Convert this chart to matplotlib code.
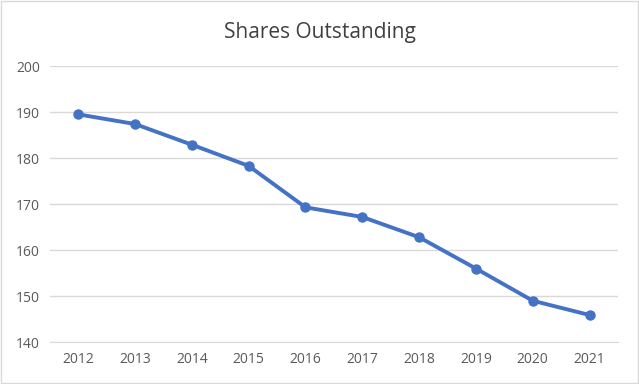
import matplotlib.pyplot as plt

# Data
years = ["2012", "2013", "2014", "2015", "2016", "2017", "2018", "2019", "2020", "2021"]
shares = [189.5, 187.4, 182.9, 178.3, 169.3, 167.2, 162.8, 156.0, 149.0, 145.9]
y_ticks = [140, 150, 160, 170, 180, 190, 200]

plt.rcParams["font.family"] = ["Open Sans", "DejaVu Sans"]

fig = plt.figure(figsize=(6.39, 3.84), dpi=100)
ax = fig.add_axes([0.078, 0.109, 0.889, 0.719])

# Outer chart border
fig.patches.append(plt.Rectangle((0.002, 0.003), 0.996, 0.994, transform=fig.transFigure,
                                 fill=False, edgecolor="#D9D9D9", linewidth=1))

x = range(len(years))
ax.plot(x, shares, color="#4472C4", linewidth=2.8, marker="o", markersize=6.5, zorder=3)

ax.set_xlim(-0.5, len(years) - 0.5)
ax.set_ylim(140, 200)
ax.set_yticks(y_ticks)
ax.set_xticks(list(x))
ax.set_xticklabels(years)

# Gridlines and styling
ax.grid(axis="y", color="#D9D9D9", linewidth=1)
ax.set_axisbelow(True)
for side in ["top", "right", "left"]:
    ax.spines[side].set_visible(False)
ax.spines["bottom"].set_color("#D9D9D9")
ax.tick_params(axis="both", length=0, labelsize=10, colors="#595959", pad=7)

fig.text(0.5, 0.915, "Shares Outstanding", ha="center", va="center", fontsize=15, color="#404040")

fig.savefig("out.png", dpi=100)
